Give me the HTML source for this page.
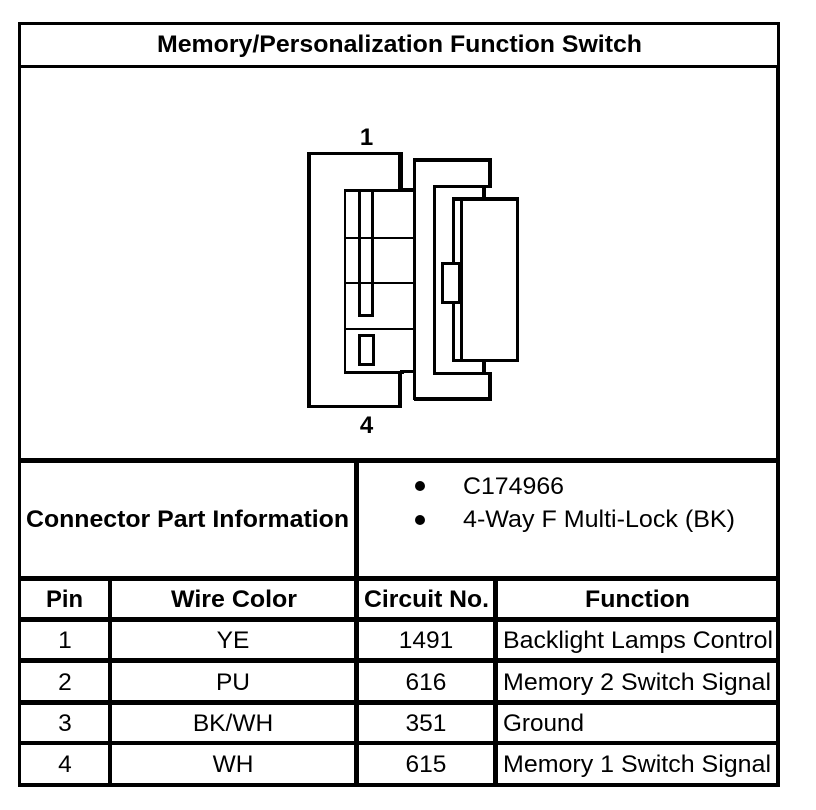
<!DOCTYPE html>
<html><head><meta charset="utf-8"><style>
html,body{margin:0;padding:0;background:#fff;width:816px;height:810px;overflow:hidden}
svg{display:block}
text{font-family:"Liberation Sans",Arial,sans-serif;font-size:24.5px;fill:#000}
.b{font-weight:bold;font-size:24px}
</style></head><body>
<svg width="816" height="810" viewBox="0 0 816 810" xmlns="http://www.w3.org/2000/svg">
<rect width="816" height="810" fill="#fff"/>
<g fill="#000" shape-rendering="crispEdges">
<!-- Frame -->
<rect x="18" y="22" width="762" height="3"/>
<rect x="18" y="22" width="3" height="44"/>
<rect x="777" y="22" width="3" height="44"/>
<rect x="18" y="65" width="762" height="3"/>
<rect x="18" y="66" width="3" height="721"/>
<rect x="776" y="66" width="4" height="721"/>
<rect x="18" y="458" width="762" height="5"/>
<rect x="18" y="576" width="762" height="5"/>
<rect x="18" y="617" width="762" height="5"/>
<rect x="18" y="658" width="762" height="5"/>
<rect x="18" y="700" width="762" height="5"/>
<rect x="18" y="741" width="762" height="4"/>
<rect x="18" y="783" width="762" height="4"/>
<rect x="354" y="458" width="5" height="329"/>
<rect x="108" y="576" width="4" height="211"/>
<rect x="493" y="576" width="5" height="211"/>
<!-- Connector: outer shell -->
<rect x="307" y="152" width="96" height="3"/>
<rect x="307" y="152" width="4" height="256"/>
<rect x="307" y="405" width="95" height="3"/>
<rect x="398" y="152" width="5" height="40"/>
<rect x="398" y="371" width="4" height="37"/>
<rect x="400" y="188" width="16" height="4"/>
<rect x="400" y="370" width="16" height="3"/>
<!-- Inner cavity -->
<rect x="344" y="189" width="2" height="184"/>
<rect x="344" y="189" width="60" height="3"/>
<rect x="344" y="371" width="60" height="3"/>
<rect x="413" y="158" width="3" height="242"/>
<rect x="346" y="237" width="68" height="2"/>
<rect x="346" y="282" width="68" height="2"/>
<rect x="346" y="328" width="68" height="2"/>
<!-- Pins -->
<rect x="358" y="189" width="3" height="128"/>
<rect x="371" y="189" width="3" height="128"/>
<rect x="358" y="314" width="16" height="3"/>
<rect x="358" y="334" width="17" height="3"/>
<rect x="358" y="363" width="17" height="3"/>
<rect x="358" y="334" width="3" height="32"/>
<rect x="372" y="334" width="3" height="32"/>
<!-- Right mating part -->
<rect x="414" y="158" width="78" height="4"/>
<rect x="488" y="158" width="4" height="29"/>
<rect x="433" y="185" width="59" height="3"/>
<rect x="433" y="185" width="3" height="190"/>
<rect x="482" y="186" width="4" height="13"/>
<rect x="452" y="197" width="66" height="4"/>
<rect x="452" y="197" width="3" height="165"/>
<rect x="460" y="197" width="3" height="165"/>
<rect x="516" y="197" width="3" height="165"/>
<rect x="452" y="359" width="66" height="3"/>
<rect x="482" y="360" width="4" height="13"/>
<rect x="433" y="372" width="59" height="3"/>
<rect x="488" y="372" width="4" height="29"/>
<rect x="414" y="397" width="78" height="4"/>
<!-- Latch -->
<rect x="442" y="263" width="18" height="40" fill="#fff"/>
<rect x="441" y="262" width="19" height="3"/>
<rect x="441" y="301" width="19" height="3"/>
<rect x="441" y="262" width="3" height="42"/>
<rect x="458" y="262" width="2" height="42"/>
</g>
<circle cx="420" cy="486" r="5" fill="#000"/>
<circle cx="420" cy="520" r="5" fill="#000"/>
<text class="b" x="157" y="52" textLength="485" lengthAdjust="spacingAndGlyphs">Memory/Personalization Function Switch</text>
<text class="b" x="366.500" y="145" text-anchor="middle">1</text>
<text class="b" x="366.500" y="433" text-anchor="middle">4</text>
<text class="b" x="26" y="527" textLength="323" lengthAdjust="spacingAndGlyphs">Connector Part Information</text>
<text x="463" y="494" textLength="101" lengthAdjust="spacingAndGlyphs">C174966</text>
<text x="463" y="527" textLength="272" lengthAdjust="spacingAndGlyphs">4-Way F Multi-Lock (BK)</text>
<text class="b" x="46" y="607" textLength="37" lengthAdjust="spacingAndGlyphs">Pin</text>
<text class="b" x="171" y="607" textLength="126" lengthAdjust="spacingAndGlyphs">Wire Color</text>
<text class="b" x="364" y="607" textLength="125" lengthAdjust="spacingAndGlyphs">Circuit No.</text>
<text class="b" x="585" y="607" textLength="105" lengthAdjust="spacingAndGlyphs">Function</text>
<text x="65" y="648" text-anchor="middle">1</text>
<text x="65" y="690" text-anchor="middle">2</text>
<text x="65" y="731" text-anchor="middle">3</text>
<text x="65" y="772" text-anchor="middle">4</text>
<text x="233" y="648" text-anchor="middle">YE</text>
<text x="233" y="690" text-anchor="middle">PU</text>
<text x="233" y="731" text-anchor="middle">BK/WH</text>
<text x="233" y="772" text-anchor="middle">WH</text>
<text x="426" y="648" text-anchor="middle">1491</text>
<text x="426" y="690" text-anchor="middle">616</text>
<text x="426" y="731" text-anchor="middle">351</text>
<text x="426" y="772" text-anchor="middle">615</text>
<text x="503" y="648" textLength="270" lengthAdjust="spacingAndGlyphs">Backlight Lamps Control</text>
<text x="503" y="690" textLength="268" lengthAdjust="spacingAndGlyphs">Memory 2 Switch Signal</text>
<text x="503" y="731" textLength="81" lengthAdjust="spacingAndGlyphs">Ground</text>
<text x="503" y="772" textLength="268" lengthAdjust="spacingAndGlyphs">Memory 1 Switch Signal</text>
</svg>
</body></html>
